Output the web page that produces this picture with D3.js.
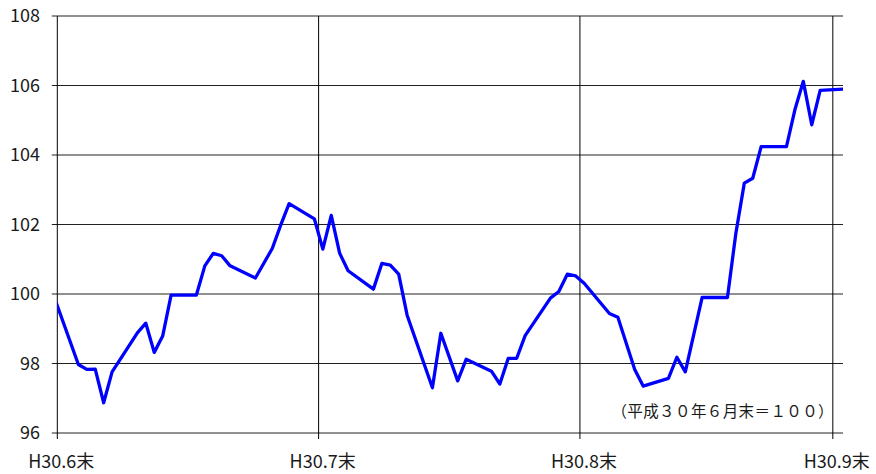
<!DOCTYPE html>
<html>
<head>
<meta charset="utf-8">
<script src="https://cdn.jsdelivr.net/npm/d3@7"></script>
<style>
  body { margin: 0; background: #fff; }
  text { font-family: "Noto Sans CJK JP", "Noto Sans", sans-serif; fill: #1a1a1a; }
</style>
</head>
<body>
<svg id="chart"></svg>
<script>
// index, H30.6末 = 100 (one point per business day)
const dates = [
  '2018-06-29', '2018-07-02', '2018-07-03', '2018-07-04', '2018-07-05', '2018-07-06',
  '2018-07-09', '2018-07-10', '2018-07-11', '2018-07-12', '2018-07-13', '2018-07-16',
  '2018-07-17', '2018-07-18', '2018-07-19', '2018-07-20', '2018-07-23', '2018-07-25',
  '2018-07-26', '2018-07-27', '2018-07-30', '2018-07-31', '2018-08-01', '2018-08-02',
  '2018-08-03', '2018-08-06', '2018-08-07', '2018-08-08', '2018-08-09', '2018-08-10',
  '2018-08-13', '2018-08-14', '2018-08-16', '2018-08-17', '2018-08-20', '2018-08-21',
  '2018-08-22', '2018-08-23', '2018-08-24', '2018-08-27', '2018-08-28', '2018-08-29',
  '2018-08-30', '2018-08-31', '2018-09-03', '2018-09-04', '2018-09-06', '2018-09-07',
  '2018-09-10', '2018-09-11', '2018-09-12', '2018-09-14', '2018-09-17', '2018-09-18',
  '2018-09-19', '2018-09-20', '2018-09-21', '2018-09-24', '2018-09-25', '2018-09-26',
  '2018-09-27', '2018-09-28', '2018-10-01'
];
const values = [
  100.00, 97.97, 97.83, 97.84, 96.87, 97.76,
  98.88, 99.16, 98.32, 98.79, 99.97, 99.97,
  100.81, 101.17, 101.10, 100.81, 100.46, 101.31,
  101.98, 102.60, 102.16, 101.29, 102.26, 101.17,
  100.67, 100.14, 100.88, 100.83, 100.57, 99.39,
  97.30, 98.87, 97.50, 98.12, 97.78, 97.41,
  98.15, 98.15, 98.80, 99.88, 100.07, 100.57,
  100.52, 100.31, 99.44, 99.33, 97.83, 97.35,
  97.57, 98.18, 97.76, 99.90, 99.90, 101.75,
  103.19, 103.33, 104.24, 104.24, 105.30, 106.12,
  104.87, 105.86, 105.90
];

const yTicks = [96, 98, 100, 102, 104, 106, 108];
const monthEnds = ['2018-06-30', '2018-07-31', '2018-08-31', '2018-09-30'];
const monthLabels = ['H30.6末', 'H30.7末', 'H30.8末', 'H30.9末'];
const note = '（平成３０年６月末＝１００）';

const w = 876;
const h = 474;
const plotLeft = 57.3, plotRight = 843, plotTop = 16, plotBottom = 433;

const parseDay = d3.timeParse('%Y-%m-%d');
// each point sits in the middle of its day
const dataset = dates.map((d, i) => ({
  date: d3.timeHour.offset(parseDay(d), 12),
  value: values[i]
}));

const svg = d3.select('#chart')
  .attr('width', w)
  .attr('height', h);

let xScale = d3.scaleTime()
  .domain([parseDay('2018-06-30'), d3.timeHour.offset(parseDay('2018-10-01'), 5)])
  .range([plotLeft, plotRight]);

let yScale = d3.scaleLinear()
  .domain([96, 108])
  .range([plotBottom, plotTop]);

// horizontal gridlines + left ticks
svg.append('g')
  .selectAll('line')
  .data(yTicks)
  .enter()
  .append('line')
  .attr('x1', plotLeft - 5.5)
  .attr('x2', plotRight)
  .attr('y1', (d) => yScale(d))
  .attr('y2', (d) => yScale(d))
  .attr('stroke', '#222')
  .attr('stroke-width', 1.1);

// month-end vertical lines (first one is the y axis)
svg.append('g')
  .selectAll('line')
  .data(monthEnds)
  .enter()
  .append('line')
  .attr('x1', (d) => xScale(parseDay(d)))
  .attr('x2', (d) => xScale(parseDay(d)))
  .attr('y1', plotTop)
  .attr('y2', plotBottom + 6)
  .attr('stroke', '#000')
  .attr('stroke-width', 1);

// y labels
svg.append('g')
  .selectAll('text')
  .data(yTicks)
  .enter()
  .append('text')
  .attr('x', 40)
  .attr('y', (d) => yScale(d))
  .attr('dy', '0.36em')
  .attr('text-anchor', 'end')
  .attr('font-size', '18px')
  .text((d) => d);

// x labels
svg.append('g')
  .selectAll('text')
  .data(monthEnds)
  .enter()
  .append('text')
  .attr('x', (d) => xScale(parseDay(d)) + 4)
  .attr('y', 468)
  .attr('text-anchor', 'middle')
  .attr('font-size', '18px')
  .text((d, i) => monthLabels[i]);

// line, clipped to the plot area
svg.append('clipPath')
  .attr('id', 'plot-clip')
  .append('rect')
  .attr('x', plotLeft)
  .attr('y', 0)
  .attr('width', plotRight - plotLeft)
  .attr('height', h);

let line = d3.line()
  .x((d) => xScale(d.date))
  .y((d) => yScale(d.value));

svg.append('path')
  .datum(dataset)
  .attr('clip-path', 'url(#plot-clip)')
  .attr('d', line)
  .attr('fill', 'none')
  .attr('stroke', '#0000ff')
  .attr('stroke-width', 3.3)
  .attr('stroke-linejoin', 'round');

// base note
svg.append('text')
  .attr('x', 834)
  .attr('y', 417)
  .attr('text-anchor', 'end')
  .attr('font-size', '15.5px')
  .attr('letter-spacing', '0.4px')
  .text(note);
</script>
</body>
</html>
